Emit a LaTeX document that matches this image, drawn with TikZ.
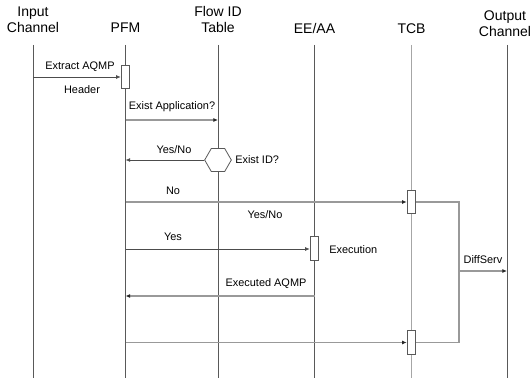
\documentclass[tikz,border=0pt]{standalone}
\usepackage{fontspec}
\setmainfont{Liberation Sans}
\usetikzlibrary{shapes.geometric,arrows.meta}
\tikzset{
  life/.style={draw=black!65, line width=0.6pt},
  tcblife/.style={draw=black!35, line width=1pt},
  msg/.style={draw=black!70, line width=0.6pt, -{Latex[length=3.5pt,width=3pt]}},
  msglight/.style={draw=black!40, line width=1pt, -{Latex[length=3.5pt,width=3pt,color=black!85]}},
  actbox/.style={draw=black!65, fill=white, line width=0.6pt, inner sep=0pt,
    minimum width=6.5pt, minimum height=17.5pt},
  head/.style={font=\fontsize{10.5}{12.5}\selectfont, align=center, inner sep=0pt,
    text depth=0pt, anchor=south},
  lbl/.style={font=\fontsize{8.2}{9}\selectfont, inner sep=0pt}
}
\begin{document}
\begin{tikzpicture}[x=0.75pt,y=-0.75pt]
  \useasboundingbox (0,0) rectangle (532,381);
  %heads
  \node[head] (inputhead) at (33,33) {Input\\Channel};
  \node[head] (pfmhead) at (125.5,33) {PFM};
  \node[head] (flowhead) at (218,33) {Flow ID\\Table};
  \node[head] (eehead) at (314.5,34) {EE/AA};
  \node[head] (tcbhead) at (411.5,34) {TCB};
  \node[head] (outhead) at (505,37) {Output\\Channel};
  %lifelines
  \foreach \name/\x in {input/33,pfm/125.5,flow/218,ee/314.5,out/507} {
    \coordinate (\name-t) at (\x,45);
    \coordinate (\name-b) at (\x,378);
    \draw[life] (\name-t) -- (\name-b);}
  \coordinate (tcb-t) at (411.5,45);
  \coordinate (tcb-b) at (411.5,378);
  \draw[tcblife] (tcb-t) -- (tcb-b);
  %activations
  \node[actbox] (pfmact) at (125.5,77) {};
  \node[actbox] (tcbact1) at (411.5,202) {};
  \node[actbox] (eeact) at (314.5,248.5) {};
  \node[actbox] (tcbact2) at (411.5,342.5) {};
  \node[draw=black!65, fill=white, line width=0.6pt, regular polygon,
    regular polygon sides=6, minimum size=20pt, inner sep=0pt] (existid) at (218,160) {};
  %messages
  \coordinate (q1) at (125.5,120);
  \coordinate (yes1) at (125.5,249);
  \coordinate (exe1) at (314.5,296);
  \draw[msg] (pfmact.west -| input-t) -- (pfmact.west);
  \draw[msglight, line width=0.8pt] (q1) -- (q1 -| flow-t);
  \draw[msg] (existid.west) -- (existid.west -| pfm-t);
  \draw[msglight] (tcbact1.west -| pfm-t) -- (tcbact1.west);
  \draw[msg] (yes1) -- (yes1 -| eeact.west);
  \draw[msglight] (exe1) -- (exe1 -| pfm-t);
  \draw[msglight] (tcbact2.west -| pfm-t) -- (tcbact2.west);
  %towards the output
  \coordinate (bend) at (459,271);
  \draw[msglight, -] (tcbact1.east) -| (bend |- tcbact2.east) -- (tcbact2.east);
  \draw[msglight] (bend) -- (bend -| out-t);
  %labels
  \node[lbl] (l1) at (80,67) {Extract AQMP};
  \node[lbl] (l2) at (82,90) {Header};
  \node[lbl] (l3) at (172,107) {Exist Application?};
  \node[lbl] (l4) at (174,150) {Yes/No};
  \node[lbl, anchor=west] (l5) at (235,160) {Exist ID?};
  \node[lbl] (l6) at (173,191) {No};
  \node[lbl] (l7) at (265,215) {Yes/No};
  \node[lbl] (l8) at (173,237) {Yes};
  \node[lbl, anchor=west] (l9) at (329,250) {Execution};
  \node[lbl] (l10) at (266,284) {Executed AQMP};
  \node[lbl] (l11) at (483,260) {DiffServ};
\end{tikzpicture}
\end{document}
